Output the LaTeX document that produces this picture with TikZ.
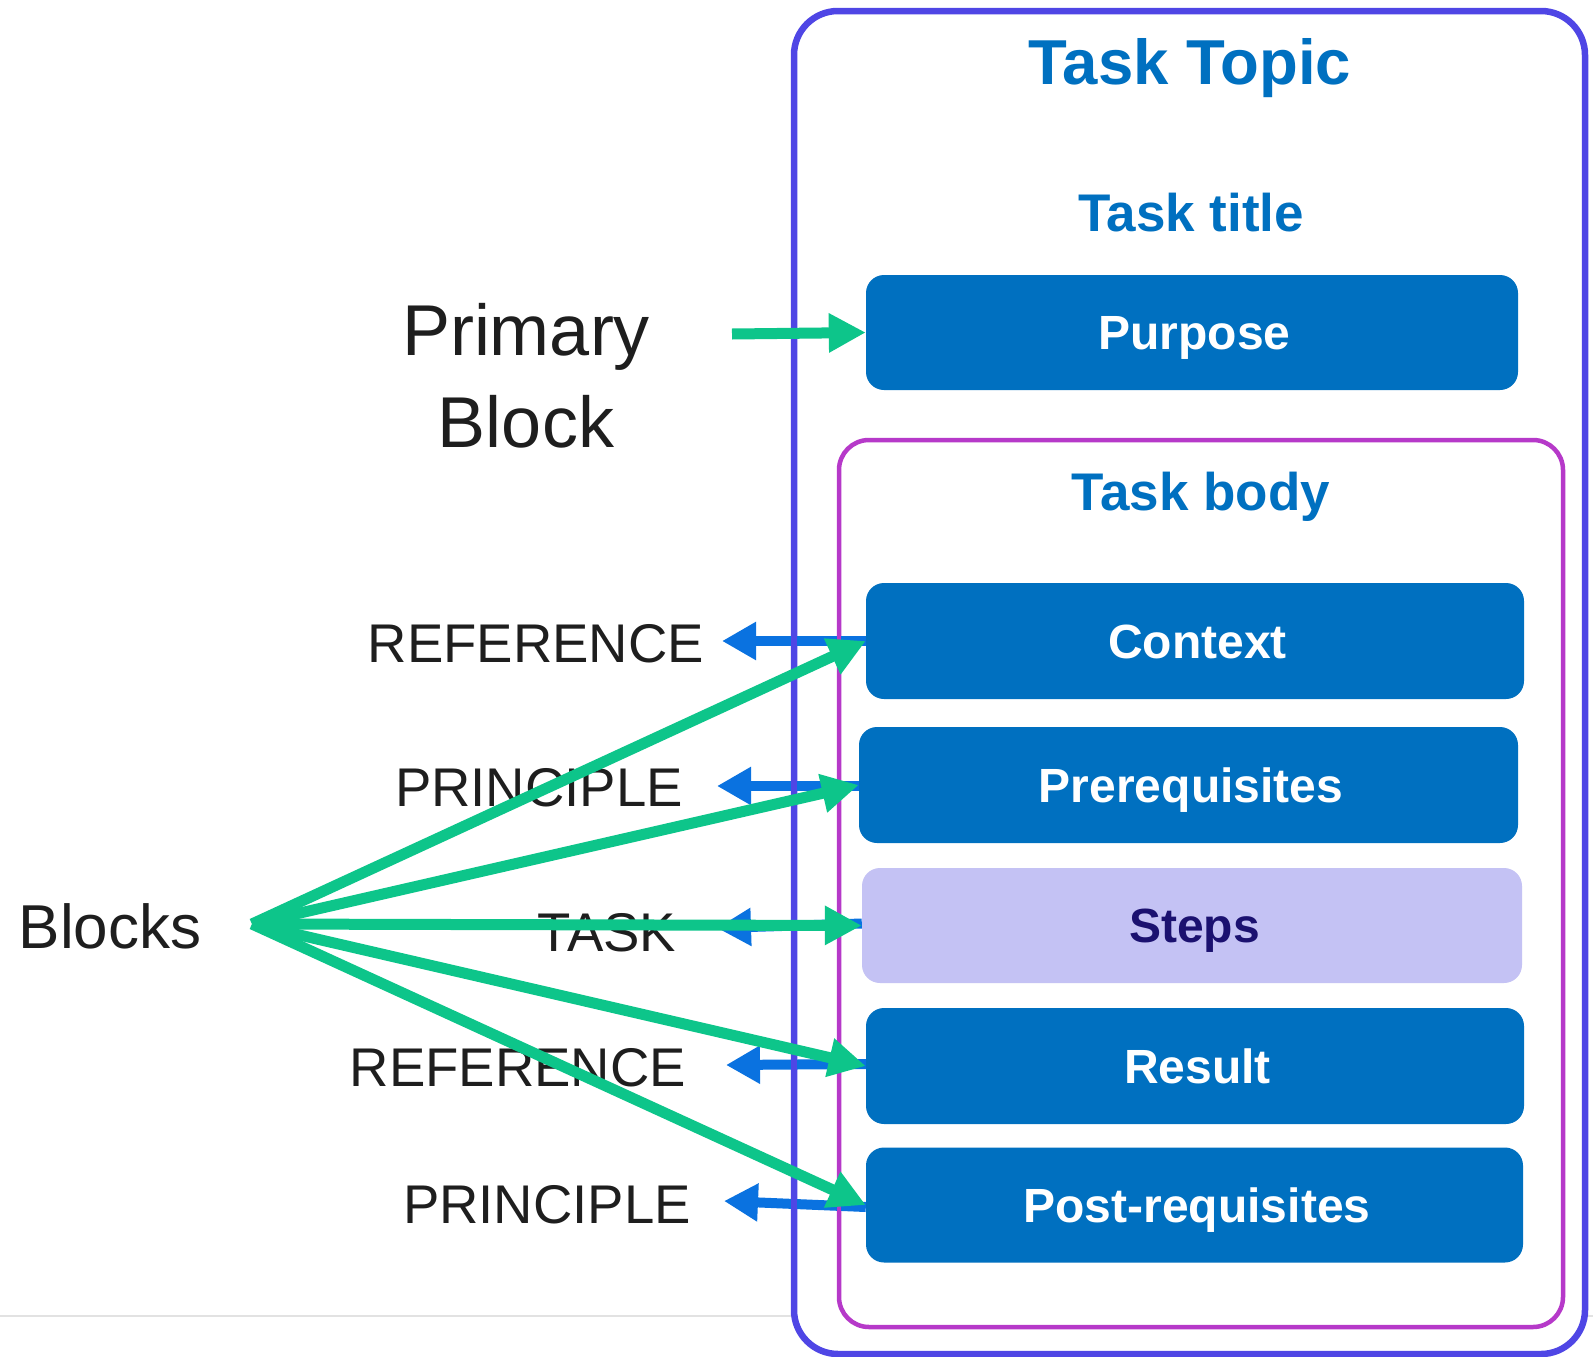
\documentclass[tikz,border=0pt]{standalone}
\usepackage{fontspec}
\setmainfont{Liberation Sans}
\usetikzlibrary{arrows.meta}

\definecolor{frameblue}{HTML}{4F46E5}
\definecolor{framepink}{HTML}{B639C9}
\definecolor{boxblue}{HTML}{0070C0}
\definecolor{stepfill}{HTML}{C4C2F4}
\definecolor{stepink}{HTML}{1B1170}
\definecolor{linkgreen}{HTML}{0DC58A}
\definecolor{linkblue}{HTML}{0A72E0}
\definecolor{inkdark}{HTML}{1E1E1E}
\definecolor{rulegray}{HTML}{E2E2E2}

\tikzset{
  blockbox/.style={draw=none, fill=boxblue, rounded corners=18pt, inner sep=0pt,
    text=white, font=\fontsize{48}{56}\selectfont\bfseries,
    text height=34pt, text depth=0pt, align=center,
    execute at begin node={\hspace*{5pt}}},
  heading/.style={text=boxblue, font=\fontsize{53}{62}\selectfont\bfseries, anchor=base},
  typelabel/.style={text=inkdark, font=\fontsize{54.5}{64}\selectfont,
    inner sep=0pt, text height=39pt, text depth=0pt},
  greenarrow/.style={draw=linkgreen, line width=11pt,
    -{Triangle[length=37pt,width=37pt]}},
  bluearrow/.style={draw=linkblue, line width=10pt,
    -{Triangle[length=34pt,width=36pt]}},
}

\begin{document}
\begin{tikzpicture}[x=1pt,y=-1pt]
\useasboundingbox (0,0) rectangle (1593,1357);

% faint page rule behind the topic frame
\draw[rulegray, line width=2.5pt] (0,1316) -- (1593,1316);

% topic frame and body frame
\filldraw[fill=white, draw=frameblue, line width=6.5pt, rounded corners=44pt]
  (794,11) rectangle (1585,1354);
\draw[framepink, line width=4.5pt, rounded corners=30pt]
  (839,440) rectangle (1563,1327);

% headings
\node[heading, font=\fontsize{63.5}{72}\selectfont\bfseries] (topic) at (1190,84) {Task Topic};
\node[heading] (title) at (1191,231) {Task title};
\node[heading] (body) at (1201,510) {Task body};

% information blocks
\node[blockbox, minimum width=652pt, minimum height=115pt] (purpose) at (1192,332.5) {Purpose};
\node[blockbox, minimum width=658pt, minimum height=116pt] (context) at (1195,641) {Context};
\node[blockbox, minimum width=659pt, minimum height=116pt] (prereq) at (1188.5,785) {Prerequisites};
\node[blockbox, fill=stepfill, text=stepink, minimum width=660pt, minimum height=115pt] (steps) at (1192,925.5) {Steps};
\node[blockbox, minimum width=658pt, minimum height=116pt] (result) at (1195,1066) {Result};
\node[blockbox, minimum width=657pt, minimum height=115pt] (post) at (1194.5,1205) {Post-requisites};

% left-hand captions
\node[text=inkdark, font=\fontsize{72}{92}\selectfont, anchor=base] (primary) at (526,355) {Primary};
\node[text=inkdark, font=\fontsize{72}{92}\selectfont, anchor=base] (primblock) at (526,447) {Block};
\node[typelabel, font=\fontsize{62}{72}\selectfont, text height=44.4pt] (blocks) at (110,926) {Blocks};

% information types
\node[typelabel] (ref1) at (536,643) {REFERENCE};
\node[typelabel] (prin1) at (539,787) {PRINCIPLE};
\node[typelabel] (task) at (607,931.5) {TASK};
\node[typelabel] (ref2) at (518,1067) {REFERENCE};
\node[typelabel] (prin2) at (547,1204) {PRINCIPLE};

% each block points back to its information type
\coordinate (tref1) at (722,641);
\coordinate (tprin1) at (717,786);
\coordinate (ttask) at (717,928);
\coordinate (tref2) at (726,1065);
\coordinate (tprin2) at (724,1201);
\draw[bluearrow] (context.west) -- (tref1);
\draw[bluearrow] ([yshift=-1pt]prereq.west) -- (tprin1);
\draw[bluearrow] ([yshift=2pt]steps.west) -- (ttask);
\draw[bluearrow] ([yshift=2pt]result.west) -- (tref2);
\draw[bluearrow] ([yshift=-2pt]post.west) -- (tprin2);

% frame edges stay visible above the blue links
\draw[frameblue, line width=6.5pt] (794,560) -- (794,1250);
\draw[framepink, line width=4.5pt] (839,560) -- (839,1250);

% the blocks fan out from the caption
\coordinate (fan) at (252,924);
\coordinate (pstart) at (732,334);
\draw[greenarrow] (pstart) -- (purpose.west);
\draw[greenarrow] (fan) -- (context.west);
\draw[greenarrow] (fan) -- (prereq.west);
\draw[greenarrow] (fan) -- (steps.west);
\draw[greenarrow] (fan) -- (result.west);
\draw[greenarrow] (fan) -- (post.west);
\end{tikzpicture}
\end{document}
